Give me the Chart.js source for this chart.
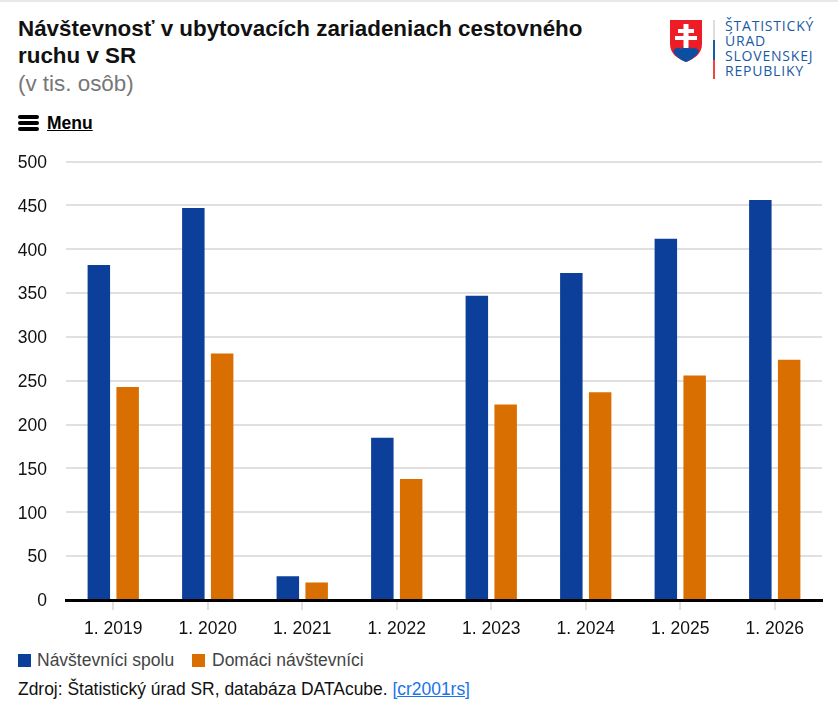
<!DOCTYPE html>
<html lang="sk">
<head>
<meta charset="utf-8">
<title>Návštevnosť v ubytovacích zariadeniach</title>
<script src="https://cdn.jsdelivr.net/npm/chart.js@4"></script>
<style>
    html, body { margin: 0; padding: 0; background: #fff; font-family: "Liberation Sans", Arial, sans-serif; }
    #page { position: relative; width: 838px; height: 712px; overflow: hidden; }
    #topline { position: absolute; left: 0; top: 0; width: 838px; height: 2px; background: #e8e8e8; }
    #title { position: absolute; left: 18px; top: 15px; width: 640px; font-size: 22.4px; font-weight: bold; line-height: 27px; color: #111; }
    #subtitle { position: absolute; left: 18px; top: 71px; font-size: 22.4px; line-height: 26px; color: #777; }
    #menu { position: absolute; left: 18px; top: 113px; height: 20px; font-size: 17.5px; font-weight: bold; line-height: 20px; color: #000; }
    #menu u { position: absolute; left: 29px; top: 0; }
    #menu i { position: absolute; left: 0; width: 21px; height: 4px; border-radius: 2px; background: #000; }
    #logo { position: absolute; left: 668px; top: 18px; }
    #logotext { position: absolute; left: 725px; top: 18px; font-size: 14px; line-height: 15px; letter-spacing: .8px; color: #1a5aa5; font-family: "Open Sans", sans-serif; }
    #chartbox { position: absolute; left: 0; top: 132px; width: 838px; height: 517px; }
    #legend { position: absolute; left: 18px; top: 650px; height: 20px; font-size: 17.5px; line-height: 20px; color: #444; }
    #legend span { position: absolute; top: 0; white-space: nowrap; }
    #legend b { position: absolute; top: 4px; width: 13px; height: 13px; }
    #source { position: absolute; left: 18px; top: 679px; font-size: 17.45px; line-height: 20px; color: #111; white-space: nowrap; }
    #source a { color: #1a73e8; }
</style>
</head>
<body>
<div id="page">
    <div id="topline"></div>
    <div id="title">Návštevnosť v ubytovacích zariadeniach cestovného<br>ruchu v SR</div>
    <div id="subtitle">(v tis. osôb)</div>
    <div id="menu"><i style="top:2px"></i><i style="top:8px"></i><i style="top:14px"></i><u>Menu</u></div>
    <svg id="logo" width="50" height="64" viewBox="0 0 50 64">
        <path d="M2 2 H34 V26 C34 36 26 41 18 44 C10 41 2 36 2 26 Z" fill="#ee1c25"/>
        <path d="M5 33 C8 29 11 29 13 31 C15 27 21 27 23 31 C25 29 28 29 31 33 C28 39 23 42 18 44 C13 42 8 39 5 33 Z" fill="#0b4ea2"/>
        <path d="M15.5 6 H20.5 V11 H26 V15 H20.5 V18 H29 V22 H20.5 V30 H15.5 V22 H7 V18 H15.5 V15 H10 V11 H15.5 Z" fill="#fff"/>
        <rect x="45" y="2" width="2" height="20" fill="#ddd"/>
        <rect x="45" y="22" width="2" height="20" fill="#1a5aa5"/>
        <rect x="45" y="42" width="2" height="19" fill="#ee4444"/>
    </svg>
    <div id="logotext">ŠTATISTICKÝ<br>ÚRAD<br>SLOVENSKEJ<br>REPUBLIKY</div>
    <div id="chartbox"><canvas id="visitorsChart"></canvas></div>
    <div id="legend">
        <b style="left:0;background:#0b3f9a"></b><span style="left:19px">Návštevníci spolu</span>
        <b style="left:174px;background:#d96f00"></b><span style="left:194px">Domáci návštevníci</span>
    </div>
    <div id="source">Zdroj: Štatistický úrad SR, databáza DATAcube. <a href="#">[cr2001rs]</a></div>
</div>
<script>
const labels = ["1. 2019", "1. 2020", "1. 2021", "1. 2022", "1. 2023", "1. 2024", "1. 2025", "1. 2026"];
const totalVisitors = [382, 447, 27, 185, 347, 373, 412, 456];
const domesticVisitors = [243, 281, 20, 138, 223, 237, 256, 274];
const yTicks = [0, 50, 100, 150, 200, 250, 300, 350, 400, 450, 500];

const ctx = document.getElementById("visitorsChart").getContext("2d");
new Chart(ctx, {
    type: "bar",
    data: {
        labels: labels,
        datasets: [
            { label: "Návštevníci spolu", data: totalVisitors, backgroundColor: "#0b3f9a" },
            { label: "Domáci návštevníci", data: domesticVisitors, backgroundColor: "#d96f00" }
        ]
    },
    options: {
        responsive: true,
        maintainAspectRatio: false,
        animation: false,
        categoryPercentage: 0.61,
        barPercentage: 0.78,
        layout: { padding: { left: 18, right: 16, top: 26, bottom: 0 } },
        scales: {
            x: {
                grid: { drawOnChartArea: false, drawTicks: true, offset: false, tickLength: 10, tickColor: "#e0e0e0", lineWidth: 2 },
                border: { color: "#000", width: 3 },
                ticks: { color: "#111", font: { size: 17.5, family: "Liberation Sans" }, padding: 9, maxRotation: 0 }
            },
            y: {
                min: 0,
                max: 500,
                afterBuildTicks: axis => { axis.ticks = yTicks.map(v => ({ value: v })); },
                afterFit: axis => { axis.width = 48; },
                grid: { color: "#e0e0e0", lineWidth: 2, drawTicks: false },
                border: { display: false },
                ticks: { color: "#111", font: { size: 17.5, family: "Liberation Sans" }, padding: 19, labelOffset: 1.5 }
            }
        },
        plugins: {
            tooltip: { enabled: false },
            legend: { display: false }
        }
    }
});
</script>
</body>
</html>
